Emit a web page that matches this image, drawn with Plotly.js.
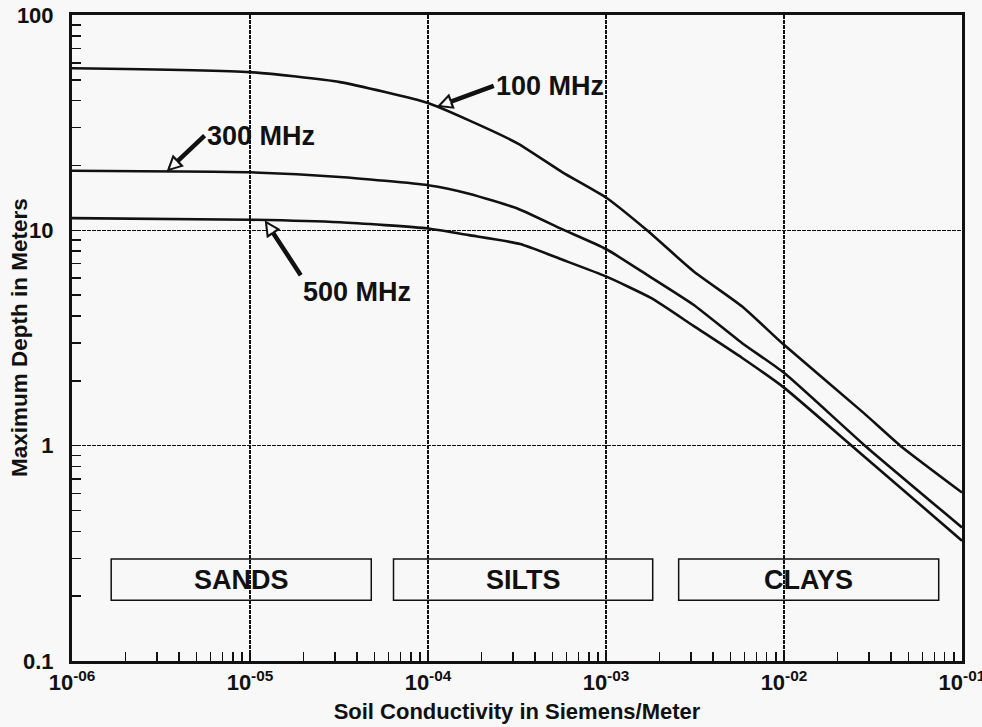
<!DOCTYPE html>
<html>
<head>
<meta charset="utf-8">
<script src="https://cdn.plot.ly/plotly-3.0.1.min.js"></script>
<style>html,body{margin:0;padding:0;background:#f8f8f8;}#chart{width:982px;height:727px;}</style>
</head>
<body>
<div id="chart"></div>
<script>
// ---- data ----
const xTickVals = [1e-6, 1e-5, 1e-4, 1e-3, 1e-2, 1e-1];
const xTickText = ['10<sup>-06</sup>', '10<sup>-05</sup>', '10<sup>-04</sup>', '10<sup>-03</sup>', '10<sup>-02</sup>', '10<sup>-01</sup>'];
const yTickVals = [0.1, 1, 10, 100];
const yTickText = ['0.1', '1', '10', '100'];

const x100 = [1e-6, 1e-5, 3.2e-5, 1e-4, 1.7e-4, 3.2e-4, 5.7e-4, 1e-3, 1.7e-3, 3.1e-3, 5.8e-3, 1e-2, 2.8e-2, 4.5e-2, 1e-1];
const y100 = [56.6, 54.3, 48.8, 39.0, 32.4, 25.3, 18.6, 14.2, 10.0, 6.46, 4.44, 2.94, 1.42, 1.0, 0.606];

const x300 = [1e-6, 1e-5, 3.2e-5, 1e-4, 1.7e-4, 3.2e-4, 5.7e-4, 1e-3, 1.7e-3, 3.1e-3, 5.8e-3, 1e-2, 2.85e-2, 1e-1];
const y300 = [18.9, 18.6, 17.7, 16.2, 14.8, 12.6, 10.1, 8.19, 6.21, 4.51, 3.0, 2.18, 1.0, 0.417];

const x500 = [1e-6, 1e-5, 3.2e-5, 1e-4, 1.7e-4, 3.3e-4, 5.7e-4, 1e-3, 1.8e-3, 3.1e-3, 5.8e-3, 1e-2, 2.4e-2, 1e-1];
const y500 = [11.4, 11.2, 10.9, 10.2, 9.5, 8.64, 7.3, 6.11, 4.84, 3.6, 2.56, 1.86, 1.0, 0.362];

const seriesNames = ['100 MHz', '300 MHz', '500 MHz'];
const labelPointX = [1.12e-4, 3.4e-6, 1.21e-5];   // conductivity where each label's arrow points

const soilNames = ['SANDS', 'SILTS', 'CLAYS'];
const soilFrom = [1.66e-6, 6.4e-5, 2.56e-3];
const soilTo   = [4.8e-5, 1.83e-3, 7.4e-2];

const xTitle = 'Soil Conductivity in Siemens/Meter';
const yTitle = 'Maximum Depth in Meters';

// ---- helpers ----
function logInterp(xs, ys, xv) {
  const lx = Math.log10(xv);
  for (let i = 0; i < xs.length - 1; i++) {
    const a = Math.log10(xs[i]), b = Math.log10(xs[i + 1]);
    if (lx >= a && lx <= b) {
      const t = (lx - a) / (b - a);
      return Math.log10(ys[i]) + t * (Math.log10(ys[i + 1]) - Math.log10(ys[i]));
    }
  }
  return Math.log10(ys[ys.length - 1]);
}
function minorVals(lo, hi) {
  const out = [];
  for (let d = lo; d < hi; d++) for (let k = 2; k <= 9; k++) out.push(k * Math.pow(10, d));
  return out;
}

const FONT = 'Liberation Sans, Arial, Helvetica, sans-serif';
const BG = '#f8f8f8';
const lineStyle = {color: '#111', width: 2.6, shape: 'spline', smoothing: 0.5};

const traces = [
  {x: x100, y: y100, name: seriesNames[0], mode: 'lines', line: lineStyle},
  {x: x300, y: y300, name: seriesNames[1], mode: 'lines', line: lineStyle},
  {x: x500, y: y500, name: seriesNames[2], mode: 'lines', line: lineStyle}
];

const seriesXs = [x100, x300, x500];
const seriesYs = [y100, y300, y500];
const arrowOffsets = [[57, -21], [38, -36], [36, 55]];
const annotations = [];
const hollow = [];
seriesNames.forEach((nm, i) => {
  const ax = arrowOffsets[i][0], ay = arrowOffsets[i][1];
  const tipX = Math.log10(labelPointX[i]);
  const tipY = logInterp(seriesXs[i], seriesYs[i], labelPointX[i]);
  annotations.push({
    x: tipX, y: tipY, xref: 'x', yref: 'y',
    text: nm, showarrow: true, ax: ax, ay: ay,
    xanchor: 'left', yanchor: i === 2 ? 'top' : 'middle',
    arrowhead: 2, arrowsize: 0.72, arrowwidth: 4.5, arrowcolor: '#111',
    font: {family: FONT, size: 27, color: '#111', weight: 'bold'}
  });
  // lighter inner head on top, leaving an outlined (hollow) arrowhead
  const L = Math.hypot(ax, ay), k = 16 / L;
  hollow.push({
    x: tipX, y: tipY, xref: 'x', yref: 'y',
    text: '', showarrow: true, ax: ax * k, ay: ay * k,
    arrowhead: 2, arrowsize: 1.27, arrowwidth: 1.5, arrowcolor: BG, standoff: 4.5
  });
});

const shapes = [];
soilNames.forEach((nm, i) => {
  shapes.push({
    type: 'rect', xref: 'x', yref: 'paper',
    x0: soilFrom[i], x1: soilTo[i], y0: 0.094, y1: 0.158,
    line: {color: '#111', width: 1.5}, fillcolor: 'rgba(0,0,0,0)'
  });
  annotations.push({
    x: (Math.log10(soilFrom[i]) + Math.log10(soilTo[i])) / 2, y: 0.126,
    xref: 'x', yref: 'paper', text: nm, showarrow: false,
    xanchor: 'center', yanchor: 'middle',
    font: {family: FONT, size: 27, color: '#111', weight: 'bold'}
  });
});

// y-axis title placed as a rotated label left of the tick labels
annotations.push({
  x: 0, y: 0.5, xref: 'paper', yref: 'paper', xshift: -53,
  text: yTitle, showarrow: false, textangle: -90,
  xanchor: 'center', yanchor: 'middle',
  font: {family: FONT, size: 22.5, color: '#111', weight: 'bold'}
});

const gridStyle = {showgrid: true, gridcolor: '#111', gridwidth: 1.2, griddash: '4px,1px'};

const layout = {
  width: 982, height: 727,
  margin: {l: 72, r: 20, t: 15, b: 66},
  paper_bgcolor: BG, plot_bgcolor: BG,
  showlegend: false,
  font: {family: FONT, color: '#111'},
  xaxis: Object.assign({
    type: 'log', range: [-6.0001, -0.9999],
    tickmode: 'array', tickvals: xTickVals, ticktext: xTickText,
    tickfont: {family: FONT, size: 22, weight: 'bold'},
    ticks: 'inside', ticklen: 9, tickwidth: 1.5, tickcolor: '#111',
    ticklabelstandoff: 0, ticklabeloverflow: 'allow',
    showline: true, linecolor: '#111', linewidth: 3, mirror: true,
    zeroline: false,
    minor: {tickmode: 'array', tickvals: minorVals(-6, -1), ticks: 'inside', ticklen: 9, tickwidth: 1.5, tickcolor: '#111', showgrid: false},
    title: {text: xTitle, font: {family: FONT, size: 22, weight: 'bold'}, standoff: 10},
    automargin: false
  }, gridStyle),
  yaxis: Object.assign({
    type: 'log', range: [-1.0001, 2.0001],
    tickmode: 'array', tickvals: yTickVals, ticktext: yTickText,
    tickfont: {family: FONT, size: 22, weight: 'bold'},
    ticks: 'inside', ticklen: 9, tickwidth: 1.5, tickcolor: '#111',
    ticklabelstandoff: 11, ticklabeloverflow: 'allow',
    showline: true, linecolor: '#111', linewidth: 3, mirror: true,
    zeroline: false,
    minor: {tickmode: 'array', tickvals: minorVals(-1, 2), ticks: 'inside', ticklen: 9, tickwidth: 1.5, tickcolor: '#111', showgrid: false},
    automargin: false
  }, gridStyle),
  shapes: shapes,
  annotations: annotations.concat(hollow)
};

Plotly.newPlot('chart', traces, layout, {displayModeBar: false, staticPlot: true});
</script>
</body>
</html>
